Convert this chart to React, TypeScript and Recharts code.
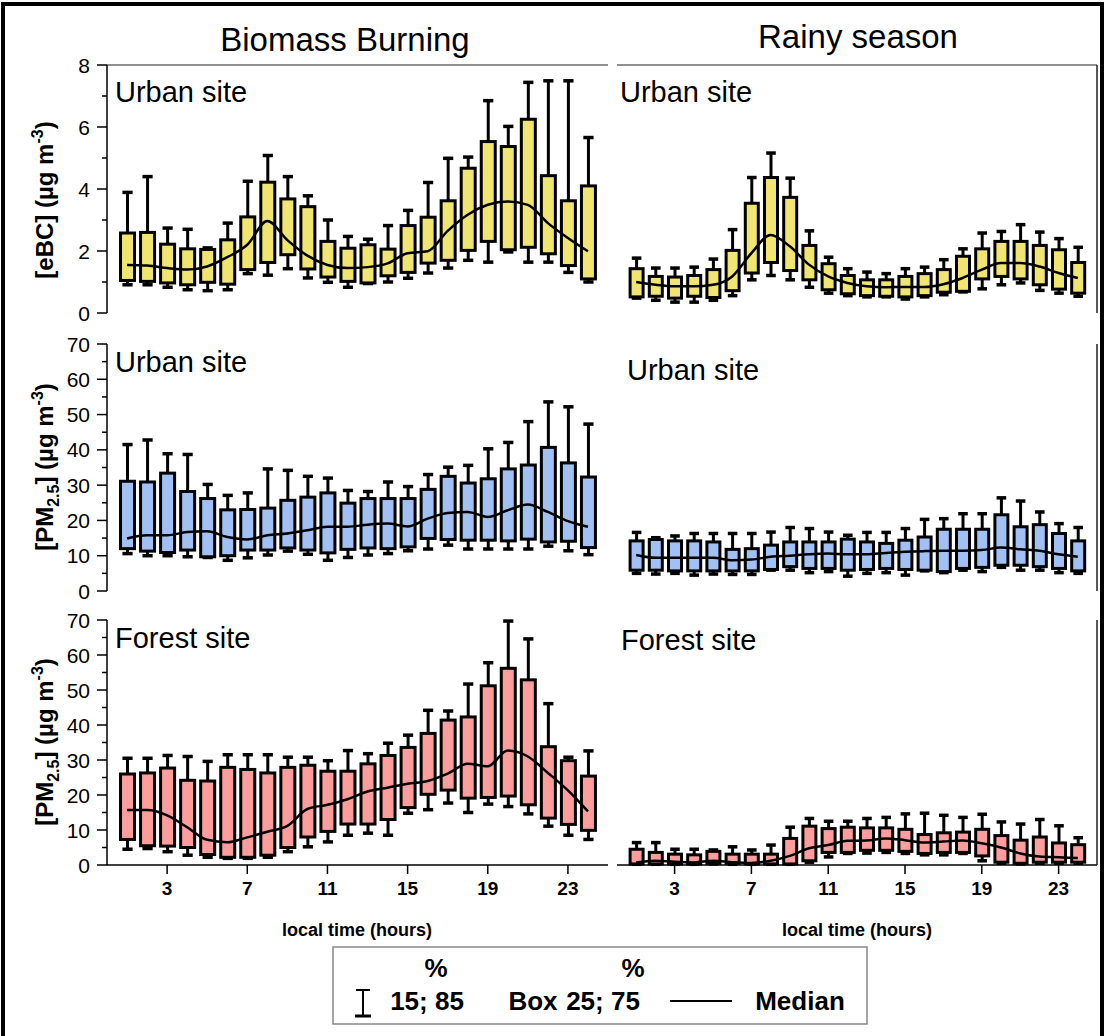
import { Bar, ComposedChart, Line, XAxis, YAxis } from "recharts"

const FONT = "'Liberation Sans', Arial, Helvetica, sans-serif"

const HOURS = [1, 2, 3, 4, 5, 6, 7, 8, 9, 10, 11, 12, 13, 14, 15, 16, 17, 18, 19, 20, 21, 22, 23, 24]
const X_TICKS = [3, 7, 11, 15, 19, 23]
const EBC_TICKS = [0, 1, 2, 3, 4, 5, 6, 7, 8]
const PM_TICKS = [0, 5, 10, 15, 20, 25, 30, 35, 40, 45, 50, 55, 60, 65, 70]

// eBC, urban site, biomass burning
const BB_EBC_LO = [0.91, 0.91, 0.83, 0.75, 0.72, 0.75, 1.27, 1.22, 1.43, 1.13, 0.99, 0.83, 0.95, 1.0, 1.12, 1.29, 1.45, 1.7, 1.64, 1.97, 1.64, 1.64, 1.31, 1.0]
const BB_EBC_Q1 = [1.05, 1.02, 0.97, 0.91, 0.99, 0.93, 1.4, 1.63, 1.88, 1.42, 1.16, 1.02, 0.97, 1.2, 1.31, 1.61, 1.7, 2.02, 2.31, 2.04, 2.12, 1.91, 1.53, 1.1]
const BB_EBC_MED = [1.55, 1.53, 1.45, 1.4, 1.5, 1.8, 2.2, 2.97, 2.35, 1.85, 1.55, 1.45, 1.48, 1.6, 1.93, 1.99, 2.65, 3.17, 3.49, 3.6, 3.49, 2.9, 2.42, 1.99]
const BB_EBC_Q3 = [2.58, 2.6, 2.22, 2.07, 2.05, 2.36, 3.1, 4.22, 3.68, 3.43, 2.31, 2.09, 2.2, 2.06, 2.82, 3.09, 3.62, 4.67, 5.53, 5.37, 6.25, 4.43, 3.62, 4.1]
const BB_EBC_HI = [3.89, 4.4, 2.74, 2.7, 2.1, 2.9, 4.25, 5.08, 4.4, 3.78, 3.0, 2.47, 2.38, 2.82, 3.31, 4.21, 4.99, 5.03, 6.85, 6.02, 7.44, 7.49, 7.49, 5.66]

// eBC, urban site, rainy season
const RS_EBC_LO = [0.48, 0.41, 0.35, 0.35, 0.41, 0.56, 1.07, 1.21, 1.07, 0.83, 0.64, 0.56, 0.52, 0.52, 0.45, 0.52, 0.59, 0.68, 0.78, 0.91, 0.97, 0.73, 0.64, 0.54]
const RS_EBC_Q1 = [0.52, 0.54, 0.48, 0.54, 0.5, 0.72, 1.29, 1.63, 1.37, 1.07, 0.75, 0.62, 0.56, 0.54, 0.52, 0.56, 0.67, 0.7, 1.1, 1.18, 1.1, 0.91, 0.77, 0.64]
const RS_EBC_MED = [1.0, 0.91, 0.86, 0.86, 0.91, 1.18, 1.93, 2.52, 2.15, 1.56, 1.18, 0.97, 0.86, 0.83, 0.84, 0.84, 0.93, 1.13, 1.4, 1.61, 1.61, 1.5, 1.29, 1.13]
const RS_EBC_Q3 = [1.43, 1.18, 1.16, 1.21, 1.4, 2.02, 3.54, 4.37, 3.73, 2.18, 1.59, 1.21, 1.07, 1.07, 1.18, 1.27, 1.4, 1.83, 2.07, 2.31, 2.31, 2.18, 2.04, 1.63]
const RS_EBC_HI = [1.77, 1.45, 1.45, 1.48, 1.74, 2.69, 4.37, 5.16, 4.35, 2.65, 1.8, 1.43, 1.32, 1.27, 1.43, 1.48, 1.72, 2.07, 2.58, 2.63, 2.85, 2.61, 2.4, 2.12]

// PM2.5, urban site, biomass burning
const BB_PMU_LO = [10.6, 10.0, 10.0, 9.7, 9.5, 8.7, 9.4, 10.2, 11.3, 10.4, 8.7, 9.5, 10.2, 10.6, 11.4, 11.9, 13.0, 11.9, 11.9, 11.9, 11.9, 12.7, 11.4, 10.3]
const BB_PMU_Q1 = [12.0, 11.3, 10.9, 11.6, 9.7, 10.0, 11.6, 11.6, 12.2, 11.6, 10.8, 11.8, 12.2, 12.0, 12.5, 14.9, 14.6, 14.4, 14.4, 14.2, 14.7, 13.9, 14.1, 12.3]
const BB_PMU_MED = [14.9, 15.8, 15.8, 16.7, 16.9, 15.3, 14.6, 15.8, 16.3, 17.2, 18.2, 18.2, 18.8, 19.1, 18.3, 20.5, 22.1, 22.4, 21.0, 22.9, 24.5, 22.4, 19.8, 18.2]
const BB_PMU_Q3 = [31.1, 30.9, 33.4, 28.2, 26.2, 23.0, 23.1, 23.5, 25.7, 26.6, 27.8, 24.9, 26.2, 26.2, 26.2, 28.8, 32.5, 30.6, 31.8, 34.6, 35.7, 40.7, 36.3, 32.3]
const BB_PMU_HI = [41.5, 42.8, 38.9, 38.7, 30.2, 27.1, 27.8, 34.6, 34.2, 32.5, 32.0, 28.5, 28.2, 30.9, 29.6, 33.0, 35.1, 35.6, 40.3, 42.1, 48.0, 53.6, 52.2, 47.3]

// PM2.5, urban site, rainy season
const RS_PMU_LO = [5.0, 4.8, 5.0, 4.5, 4.8, 4.7, 4.7, 5.9, 5.9, 5.2, 5.5, 4.2, 5.0, 5.2, 4.5, 5.7, 5.2, 5.9, 5.5, 6.7, 5.9, 5.9, 5.2, 5.0]
const RS_PMU_Q1 = [5.9, 5.9, 5.7, 5.7, 5.7, 5.7, 5.7, 6.1, 6.9, 6.4, 6.4, 5.9, 6.1, 6.4, 6.1, 5.9, 5.5, 6.4, 6.7, 7.3, 7.3, 6.9, 6.4, 5.7]
const RS_PMU_MED = [10.2, 9.4, 9.4, 9.4, 9.4, 8.7, 8.9, 9.7, 10.0, 10.4, 10.6, 10.4, 10.4, 10.8, 11.1, 11.3, 11.4, 11.4, 11.6, 12.3, 11.8, 11.4, 10.4, 9.7]
const RS_PMU_Q3 = [14.2, 14.6, 14.2, 14.2, 13.9, 11.8, 12.0, 13.0, 13.9, 13.9, 13.9, 14.7, 13.9, 13.5, 14.4, 15.3, 17.5, 17.5, 17.5, 21.6, 18.2, 18.8, 16.3, 14.2]
const RS_PMU_HI = [16.6, 15.1, 15.6, 16.3, 16.3, 16.3, 16.3, 16.7, 18.0, 17.7, 16.7, 15.8, 16.6, 16.6, 17.7, 20.3, 20.5, 21.9, 21.9, 26.4, 25.5, 22.4, 19.1, 18.0]

// PM2.5, forest site, biomass burning
const BB_PMF_LO = [4.5, 4.7, 3.8, 2.8, 2.2, 1.9, 1.9, 2.2, 3.8, 5.2, 6.6, 8.5, 9.1, 8.5, 14.8, 15.8, 17.7, 15.0, 17.4, 16.7, 14.6, 11.1, 8.5, 7.3]
const BB_PMF_Q1 = [7.3, 5.5, 5.4, 5.0, 3.0, 2.2, 2.2, 2.8, 5.0, 8.0, 9.6, 11.7, 11.7, 13.0, 16.4, 20.2, 21.4, 19.1, 19.3, 19.7, 17.2, 13.4, 11.6, 9.9]
const BB_PMF_MED = [15.7, 15.7, 14.2, 10.8, 7.2, 6.5, 7.9, 9.5, 11.2, 16.0, 17.2, 18.8, 21.0, 22.1, 23.2, 24.0, 26.1, 28.9, 28.2, 32.7, 31.0, 26.3, 21.3, 15.3]
const BB_PMF_Q3 = [26.0, 26.3, 27.7, 24.2, 24.0, 27.9, 27.3, 26.3, 27.9, 28.5, 26.8, 26.8, 28.9, 31.3, 33.6, 37.6, 41.4, 42.3, 51.2, 56.2, 52.9, 33.8, 29.8, 25.4]
const BB_PMF_HI = [30.5, 30.5, 31.3, 31.0, 29.6, 31.5, 31.5, 31.5, 30.8, 30.8, 29.8, 32.7, 31.8, 34.8, 37.1, 44.2, 44.0, 51.7, 57.8, 69.7, 64.6, 46.1, 30.8, 32.6]

// PM2.5, forest site, rainy season
const RS_PMF_LO = [0.2, 0.2, 0.2, 0.2, 0.3, 0.2, 0.2, 0.2, 0.2, 0.8, 2.3, 3.3, 3.4, 3.6, 3.3, 2.9, 2.9, 3.3, 1.2, 0.5, 0.3, 0.5, 0.5, 0.5]
const RS_PMF_Q1 = [0.3, 0.3, 0.3, 0.3, 0.5, 0.5, 0.3, 0.3, 0.3, 1.2, 3.6, 3.6, 4.2, 4.2, 3.9, 3.3, 3.6, 3.6, 2.6, 0.8, 0.5, 0.8, 0.8, 0.8]
const RS_PMF_MED = [0.75, 1.2, 0.9, 0.75, 1.2, 0.8, 0.6, 1.2, 2.6, 4.8, 5.7, 6.9, 7.0, 7.6, 7.1, 6.4, 6.7, 7.0, 6.2, 5.0, 3.3, 2.4, 2.2, 2.0]
const RS_PMF_Q3 = [4.5, 3.6, 3.1, 2.9, 3.9, 3.1, 3.1, 3.1, 7.6, 11.1, 10.4, 10.8, 10.6, 10.6, 10.2, 8.7, 9.2, 9.4, 10.2, 8.4, 7.1, 8.0, 6.3, 5.8]
const RS_PMF_HI = [6.4, 6.4, 4.5, 4.5, 4.3, 5.2, 4.3, 5.7, 10.8, 13.3, 12.5, 12.5, 13.3, 13.6, 14.6, 14.8, 14.2, 13.6, 14.5, 12.3, 11.7, 13.0, 11.2, 7.8]

const YELLOW = "#f0e571"
const BLUE = "#a1c0f4"
const PINK = "#ff9d9d"

type Row = { hour: number; range: [number, number]; lo: number; q1: number; med: number; q3: number; hi: number }

const buildRows = (lo: number[], q1: number[], med: number[], q3: number[], hi: number[]): Row[] =>
    HOURS.map((hour, i) => ({ hour, range: [lo[i], hi[i]], lo: lo[i], q1: q1[i], med: med[i], q3: q3[i], hi: hi[i] }))

// bar spans the 15-85 % range; box and whiskers are placed inside it on the same linear scale
const BoxShape = (props: any) => {
    const { x, y, width, height, payload, fill } = props
    if (!payload || !Number.isFinite(x) || !Number.isFinite(y)) return null
    const top = Math.min(y, y + height)
    const span = Math.abs(height)
    const { lo, q1, q3, hi } = payload
    const toPx = (v: number) => (hi === lo ? top : top + ((hi - v) / (hi - lo)) * span)
    const cx = x + width / 2
    const cap = width * 0.6
    const yHi = toPx(hi)
    const yQ3 = toPx(q3)
    const yQ1 = toPx(q1)
    const yLo = toPx(lo)
    return (
        <g>
            <line x1={cx} x2={cx} y1={yHi} y2={yQ3} stroke="#000" strokeWidth={3} />
            <line x1={cx} x2={cx} y1={yQ1} y2={yLo} stroke="#000" strokeWidth={3} />
            <line x1={cx - cap / 2} x2={cx + cap / 2} y1={yHi} y2={yHi} stroke="#000" strokeWidth={3.5} />
            <line x1={cx - cap / 2} x2={cx + cap / 2} y1={yLo} y2={yLo} stroke="#000" strokeWidth={3.5} />
            <rect x={x + 1.5} y={yQ3} width={width - 3} height={Math.max(yQ1 - yQ3, 1)} fill={fill} stroke="#000" strokeWidth={3} />
        </g>
    )
}

const YTick = ({ x, y, payload, step }: any) => {
    const major = payload.value % step === 0
    return (
        <g>
            <line x1={x - (major ? 10 : 5)} x2={x} y1={y} y2={y} stroke="#000" strokeWidth={1.5} />
            {major && (
                <text x={x - 17} y={y} dy="0.36em" textAnchor="end" fontSize={21} fontFamily={FONT} fill="#000">
                    {payload.value}
                </text>
            )}
        </g>
    )
}

type PanelProps = {
    rows: Row[]
    left: number
    top: number
    plotHeight: number
    side: "left" | "right"
    yMax: number
    yTicks: number[]
    step: number
    color: string
    topLine?: boolean
    xAxis?: boolean
}

const Panel = ({ rows, left, top, plotHeight, side, yMax, yTicks, step, color, topLine = false, xAxis = false }: PanelProps) => {
    const isLeft = side === "left"
    const width = isLeft ? 620 : 487
    const margin = { top: topLine ? 14 : 15, right: isLeft ? 12 : 6, bottom: 0, left: 0 }
    return (
        <div style={{ position: "absolute", left, top }}>
            <ComposedChart width={width} height={plotHeight + 15 + 40} data={rows} margin={margin}>
                <XAxis
                    dataKey="hour"
                    type="number"
                    domain={[0, 25]}
                    ticks={X_TICKS}
                    interval={0}
                    height={40}
                    tickSize={9}
                    tickMargin={8}
                    axisLine={xAxis ? { stroke: "#000", strokeWidth: 1.5 } : false}
                    tickLine={xAxis ? { stroke: "#000", strokeWidth: 1.5 } : false}
                    tick={xAxis ? { fill: "#000", fontSize: 19, fontWeight: 700, fontFamily: FONT } : false}
                />
                {topLine && (
                    <XAxis
                        xAxisId="top"
                        orientation="top"
                        dataKey="hour"
                        type="number"
                        domain={[0, 25]}
                        height={1}
                        tick={false}
                        tickLine={false}
                        axisLine={{ stroke: "#222", strokeWidth: 1.2 }}
                    />
                )}
                {isLeft ? (
                    <YAxis
                        type="number"
                        domain={[0, yMax]}
                        ticks={yTicks}
                        interval={0}
                        width={107}
                        tickSize={0}
                        tickMargin={0}
                        tickLine={false}
                        axisLine={{ stroke: "#000", strokeWidth: 1.5 }}
                        tick={(p: any) => <YTick {...p} step={step} />}
                    />
                ) : (
                    <YAxis
                        orientation="right"
                        type="number"
                        domain={[0, yMax]}
                        width={1}
                        tick={false}
                        tickLine={false}
                        axisLine={{ stroke: "#222", strokeWidth: 1.5 }}
                    />
                )}
                <Bar dataKey="range" barSize={isLeft ? 17 : 16} fill={color} shape={BoxShape} isAnimationActive={false} />
                <Line dataKey="med" type="monotone" stroke="#000" strokeWidth={2.5} dot={false} activeDot={false} isAnimationActive={false} />
            </ComposedChart>
        </div>
    )
}

const SiteLabel = ({ x, y, text }: { x: number; y: number; text: string }) => (
    <text x={x} y={y} fontSize={29} fontFamily={FONT} fill="#000">
        {text}
    </text>
)

const PmLabel = ({ cy }: { cy: number }) => (
    <text transform={`translate(53, ${cy}) rotate(-90)`} textAnchor="middle" fontSize={24} fontWeight={700} fontFamily={FONT} fill="#000">
        [PM<tspan fontSize={16} dy={6}>2.5</tspan>
        <tspan dy={-6}>] (µg m</tspan>
        <tspan fontSize={16} dy={-10}>-3</tspan>
        <tspan dy={10}>)</tspan>
    </text>
)

const App = () => {
    const bbEbc = buildRows(BB_EBC_LO, BB_EBC_Q1, BB_EBC_MED, BB_EBC_Q3, BB_EBC_HI)
    const rsEbc = buildRows(RS_EBC_LO, RS_EBC_Q1, RS_EBC_MED, RS_EBC_Q3, RS_EBC_HI)
    const bbPmu = buildRows(BB_PMU_LO, BB_PMU_Q1, BB_PMU_MED, BB_PMU_Q3, BB_PMU_HI)
    const rsPmu = buildRows(RS_PMU_LO, RS_PMU_Q1, RS_PMU_MED, RS_PMU_Q3, RS_PMU_HI)
    const bbPmf = buildRows(BB_PMF_LO, BB_PMF_Q1, BB_PMF_MED, BB_PMF_Q3, BB_PMF_HI)
    const rsPmf = buildRows(RS_PMF_LO, RS_PMF_Q1, RS_PMF_MED, RS_PMF_Q3, RS_PMF_HI)

    return (
        <div style={{ position: "absolute", left: 0, top: 0, width: 1107, height: 1036, background: "#fff", overflow: "hidden" }}>
            <Panel rows={bbEbc} left={0} top={50} plotHeight={248} side="left" yMax={8} yTicks={EBC_TICKS} step={2} color={YELLOW} topLine />
            <Panel rows={rsEbc} left={617} top={50} plotHeight={248} side="right" yMax={8} yTicks={EBC_TICKS} step={2} color={YELLOW} topLine />
            <Panel rows={bbPmu} left={0} top={329} plotHeight={247} side="left" yMax={70} yTicks={PM_TICKS} step={10} color={BLUE} />
            <Panel rows={rsPmu} left={617} top={329} plotHeight={247} side="right" yMax={70} yTicks={PM_TICKS} step={10} color={BLUE} />
            <Panel rows={bbPmf} left={0} top={605} plotHeight={245} side="left" yMax={70} yTicks={PM_TICKS} step={10} color={PINK} xAxis />
            <Panel rows={rsPmf} left={617} top={605} plotHeight={245} side="right" yMax={70} yTicks={PM_TICKS} step={10} color={PINK} xAxis />

            <svg width={1107} height={1036} style={{ position: "absolute", left: 0, top: 0, pointerEvents: "none" }}>
                <rect x={3} y={4} width={1099} height={1045} fill="none" stroke="#000" strokeWidth={4} />

                <text x={345} y={51} textAnchor="middle" fontSize={33} fontFamily={FONT} fill="#000">Biomass Burning</text>
                <text x={858} y={48} textAnchor="middle" fontSize={33} fontFamily={FONT} fill="#000">Rainy season</text>

                <SiteLabel x={115} y={102} text="Urban site" />
                <SiteLabel x={620} y={102} text="Urban site" />
                <SiteLabel x={115} y={372} text="Urban site" />
                <SiteLabel x={627} y={380} text="Urban site" />
                <SiteLabel x={115} y={648} text="Forest site" />
                <SiteLabel x={621} y={650} text="Forest site" />

                <text transform="translate(53, 200) rotate(-90)" textAnchor="middle" fontSize={24} fontWeight={700} fontFamily={FONT} fill="#000">
                    [eBC] (µg m<tspan fontSize={16} dy={-10}>-3</tspan>
                    <tspan dy={10}>)</tspan>
                </text>
                <PmLabel cy={467} />
                <PmLabel cy={742} />

                <text x={357} y={936} textAnchor="middle" fontSize={18} fontWeight={700} fontFamily={FONT} fill="#000">local time (hours)</text>
                <text x={857} y={936} textAnchor="middle" fontSize={18} fontWeight={700} fontFamily={FONT} fill="#000">local time (hours)</text>

                <rect x={333} y={947} width={534} height={77} fill="#fff" stroke="#888" strokeWidth={1.5} />
                <g fontSize={26} fontWeight={700} fontFamily={FONT} fill="#000">
                    <text x={436} y={977} textAnchor="middle">%</text>
                    <text x={633} y={977} textAnchor="middle">%</text>
                    <text x={427} y={1010} textAnchor="middle">15; 85</text>
                    <text x={533} y={1010} textAnchor="middle">Box</text>
                    <text x={603} y={1010} textAnchor="middle">25; 75</text>
                    <text x={800} y={1010} textAnchor="middle">Median</text>
                </g>
                <line x1={363} x2={363} y1={990} y2={1016} stroke="#000" strokeWidth={2} />
                <line x1={356} x2={370} y1={990} y2={990} stroke="#000" strokeWidth={2} />
                <line x1={355} x2={371} y1={1016} y2={1016} stroke="#000" strokeWidth={3} />
                <line x1={670} x2={732} y1={1001} y2={1001} stroke="#000" strokeWidth={2} />
            </svg>
        </div>
    )
}

export default App
